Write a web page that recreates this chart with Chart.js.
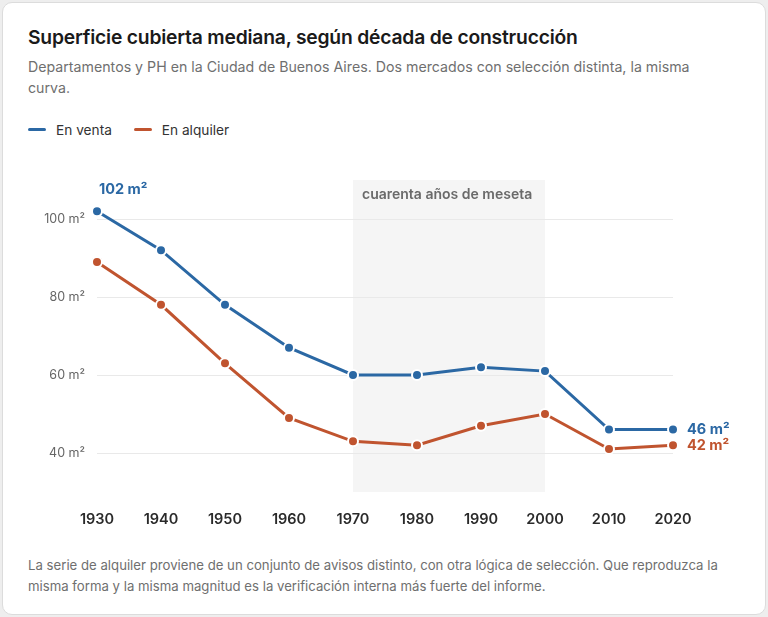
<!DOCTYPE html>
<html>
<head>
<meta charset="utf-8">
<script src="https://cdn.jsdelivr.net/npm/chart.js@4"></script>
<style>
  html, body { margin: 0; padding: 0; background: #eeeeee; }
  body { width: 768px; height: 617px; position: relative; font-family: Inter, "Noto Sans", sans-serif; overflow: hidden; }
  .card { position: absolute; left: 2px; top: 2px; width: 762px; height: 611px; background: #fff; border: 1px solid #dcdcdc; border-radius: 10px; }
  h1 { position: absolute; left: 28px; top: 25px; margin: 0; font-size: 19.3px; font-weight: 600; color: #1a1a1a; letter-spacing: -0.2px; white-space: nowrap; }
  .sub { position: absolute; left: 28px; top: 56px; width: 690px; margin: 0; font-size: 14.2px; line-height: 21px; color: #6f6f6f; }
  .legend { position: absolute; left: 28px; top: 120px; font-size: 13.7px; color: #333; }
  .legend span { display: inline-block; vertical-align: middle; }
  .legend .sw { width: 18px; height: 3px; border-radius: 2px; margin-right: 10px; }
  .legend .item { margin-right: 18px; }
  .note { position: absolute; left: 28px; top: 555px; width: 712px; margin: 0; font-size: 13.2px; line-height: 21px; color: #6f6f6f; }
  #wrap { position: absolute; left: 0; top: 150px; width: 768px; height: 390px; }
</style>
</head>
<body>
<div class="card"></div>
<h1>Superficie cubierta mediana, según década de construcción</h1>
<p class="sub">Departamentos y PH en la Ciudad de Buenos Aires. Dos mercados con selección distinta, la misma curva.</p>
<div class="legend">
  <span class="item"><span class="sw" style="background:#2b68a4"></span><span>En venta</span></span>
  <span class="item"><span class="sw" style="background:#c0542f"></span><span>En alquiler</span></span>
</div>
<div id="wrap"><canvas id="chart"></canvas></div>
<p class="note">La serie de alquiler proviene de un conjunto de avisos distinto, con otra lógica de selección. Que reproduzca la misma forma y la misma magnitud es la verificación interna más fuerte del informe.</p>
<script>
// decades and median covered area (m²)
const decades = ['1930', '1940', '1950', '1960', '1970', '1980', '1990', '2000', '2010', '2020'];
const venta = [102, 92, 78, 67, 60, 60, 62, 61, 46, 46];
const alquiler = [89, 78, 63, 49, 43, 42, 47, 50, 41, 42];
const yTicks = [40, 60, 80, 100];
const mesetaFrom = '1970';
const mesetaTo = '2000';

const BLUE = '#2b68a4';
const ORANGE = '#c0542f';

// gray band for the plateau, plus the direct labels
const extras = {
  id: 'extras',
  beforeDraw(chart) {
    const { ctx, chartArea } = chart;
    const x = chart.scales.x;
    const x0 = x.getPixelForValue(decades.indexOf(mesetaFrom));
    const x1 = x.getPixelForValue(decades.indexOf(mesetaTo));
    ctx.save();
    ctx.fillStyle = '#f5f5f5';
    ctx.fillRect(x0, chartArea.top, x1 - x0, chartArea.bottom - chartArea.top);
    ctx.fillStyle = '#6a6a6a';
    ctx.font = '600 14px Inter, sans-serif';
    ctx.textBaseline = 'middle';
    ctx.fillText('cuarenta años de meseta', x0 + 9, chartArea.top + 15);
    ctx.restore();
  },
  afterDatasetsDraw(chart) {
    const { ctx } = chart;
    const x = chart.scales.x, y = chart.scales.y;
    const last = decades.length - 1;
    ctx.save();
    ctx.font = '700 14.5px Inter, sans-serif';
    ctx.textBaseline = 'middle';
    ctx.fillStyle = BLUE;
    ctx.fillText(venta[0] + ' m²', x.getPixelForValue(0) + 2, y.getPixelForValue(venta[0]) - 22);
    ctx.fillText(venta[last] + ' m²', x.getPixelForValue(last) + 14, y.getPixelForValue(venta[last]));
    ctx.fillStyle = ORANGE;
    ctx.fillText(alquiler[last] + ' m²', x.getPixelForValue(last) + 14, y.getPixelForValue(alquiler[last]));
    ctx.restore();
  }
};

const ds = (label, data, color) => ({
  label, data,
  borderColor: color,
  backgroundColor: color,
  borderWidth: 3,
  pointRadius: 5,
  pointBorderWidth: 2,
  pointBorderColor: '#fff',
  pointBackgroundColor: color,
  tension: 0
});

new Chart(document.getElementById('chart'), {
  type: 'line',
  data: {
    labels: decades,
    datasets: [ds('En venta', venta, BLUE), ds('En alquiler', alquiler, ORANGE)]
  },
  options: {
    responsive: true,
    maintainAspectRatio: false,
    animation: false,
    layout: { padding: { top: 30, right: 95, left: 0, bottom: 0 } },
    plugins: { legend: { display: false }, tooltip: { enabled: false } },
    scales: {
      x: {
        offset: false,
        grid: { display: false },
        border: { display: false },
        ticks: { color: '#2a2a2a', font: { family: 'Inter', size: 14.5, weight: '600' }, padding: 11, maxRotation: 0 },
        afterFit(s) { s.height = 48; }
      },
      y: {
        min: 30, max: 110,
        afterBuildTicks(s) { s.ticks = yTicks.map(v => ({ value: v })); },
        grid: { color: '#e9e9e9', lineWidth: 1, drawTicks: false },
        border: { display: false },
        ticks: { color: '#666', font: { family: 'Inter', size: 12.5 }, padding: 12, callback: v => v + ' m²' },
        afterFit(s) { s.width = 97; }
      }
    }
  },
  plugins: [extras]
});
</script>
</body>
</html>
